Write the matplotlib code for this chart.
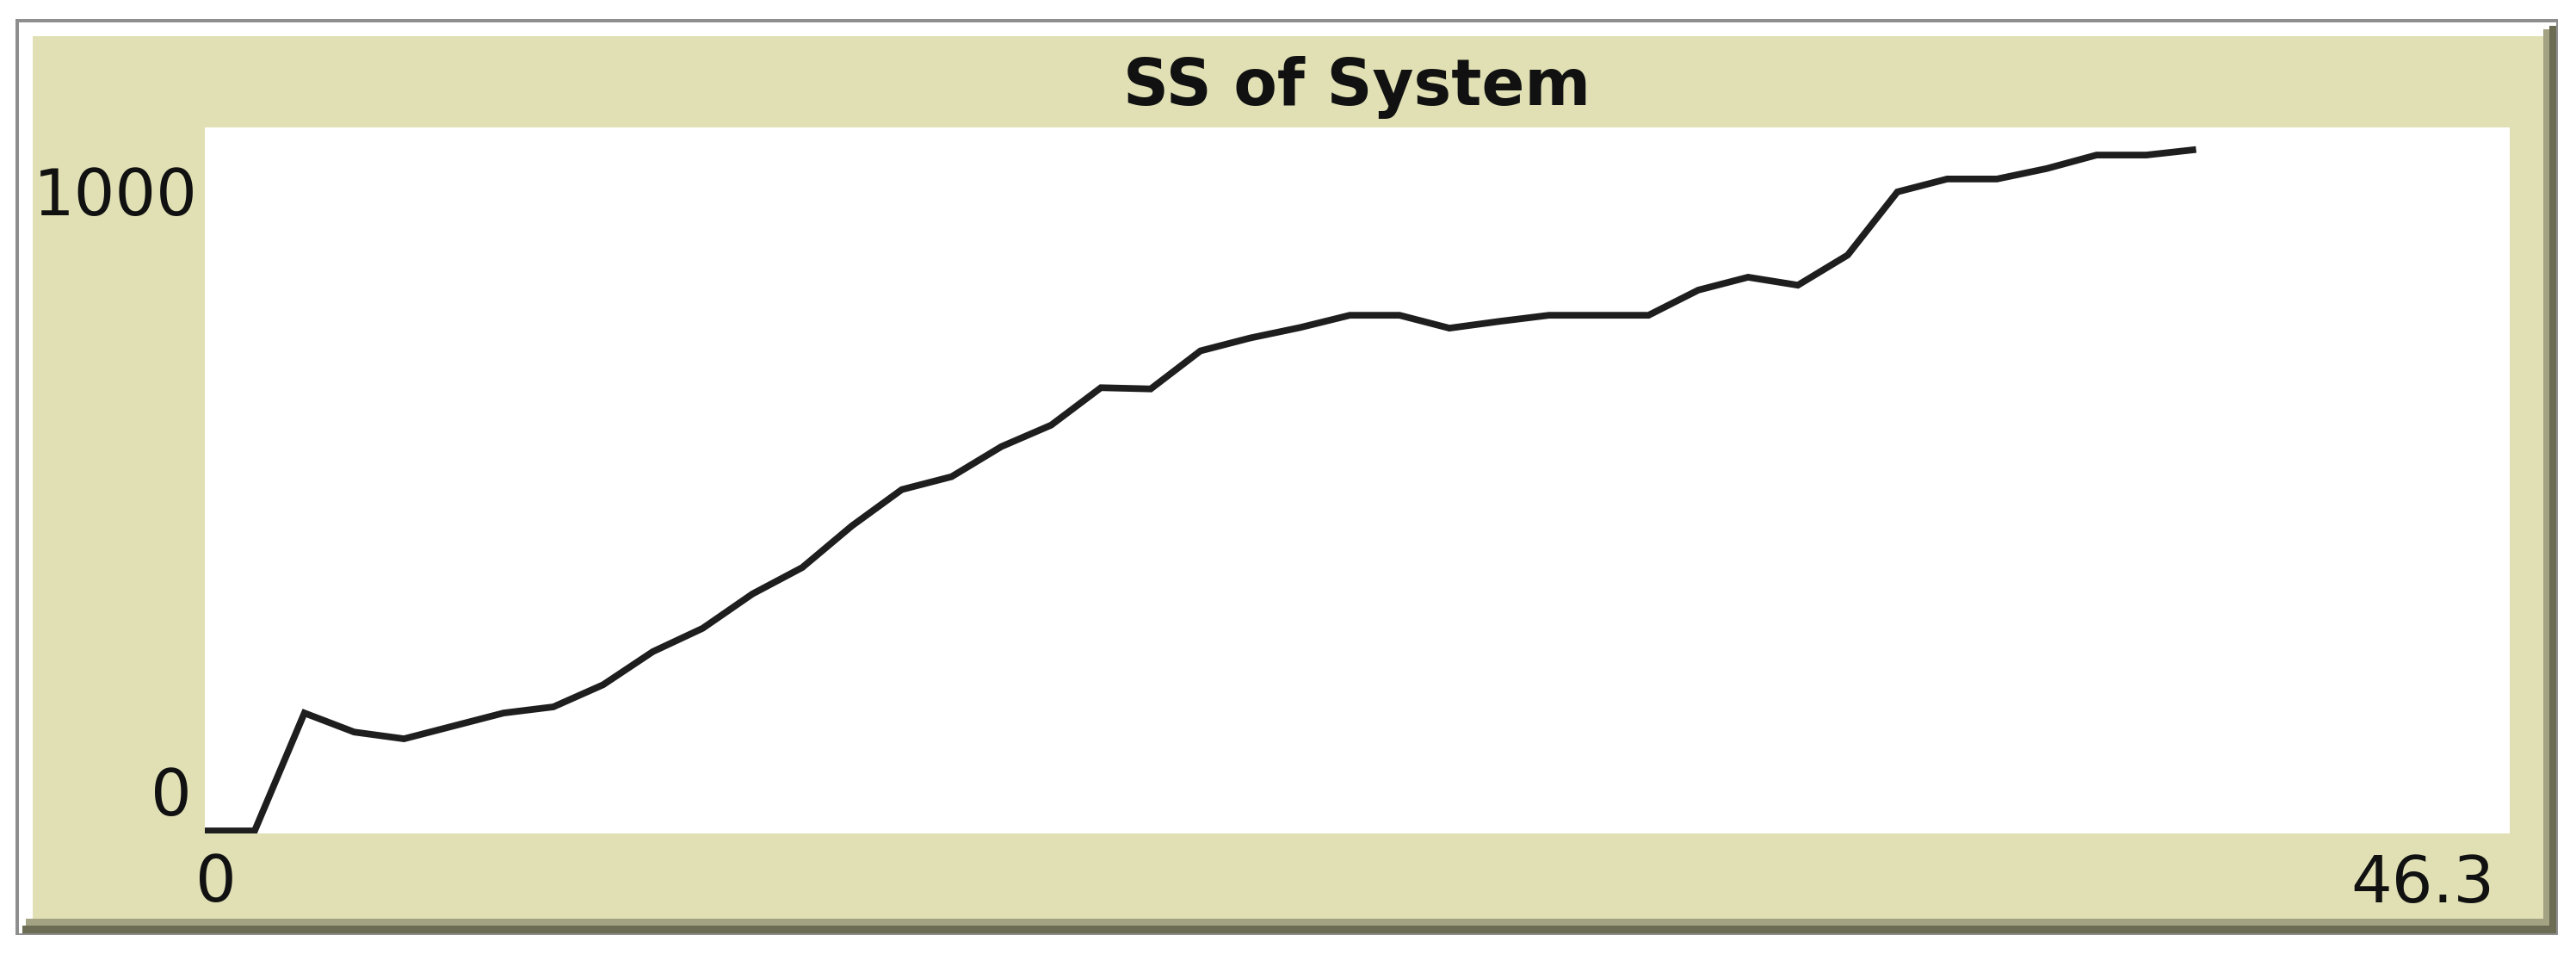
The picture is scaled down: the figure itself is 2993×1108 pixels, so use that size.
# NetLogo-style plot widget: "SS of System"
import matplotlib
matplotlib.use("Agg")
import matplotlib.pyplot as plt
from matplotlib.patches import Rectangle

# ---- data ----
ticks = list(range(41))
ss_values = [0, 0, 192, 161, 150, 171, 192, 202, 238, 292,
             330, 386, 429, 497, 556, 577, 626, 661, 722, 720,
             782, 803, 820, 840, 840, 819, 830, 840, 840, 840,
             881, 902, 889, 938, 1041, 1062, 1062, 1079, 1101, 1101,
             1110]
title = "SS of System"
x_min_label, x_max_label = "0", "46.3"
y_min_label, y_max_label = "0", "1000"
x_range = (0, 46.3)
y_range = (-4.2, 1146)

W, H = 2993, 1108
KHAKI = "#e0e0b4"
SHADOW_MID = "#a3a384"
SHADOW_DARK = "#6c6c54"

fig = plt.figure(figsize=(W / 100, H / 100), dpi=100)
fig.patch.set_facecolor("white")


def px_rect(x0, y0, x1, y1, color):
    # rectangle given in pixel coords with origin top-left
    r = Rectangle((x0 / W, 1 - y1 / H), (x1 - x0) / W, (y1 - y0) / H,
                  transform=fig.transFigure, facecolor=color,
                  edgecolor="none", zorder=-10)
    fig.add_artist(r)


def px_text(x, y, s, **kw):
    fig.text(x / W, 1 - y / H, s, **kw)


# widget frame
px_rect(18, 22, 2972, 1086, "#8e8e8e")
px_rect(22, 26, 2970, 1084, "white")
px_rect(38, 42, 2955, 1067, KHAKI)
px_rect(30, 1067, 2962, 1075, SHADOW_MID)
px_rect(26, 1075, 2970, 1084, SHADOW_DARK)
px_rect(2955, 34, 2962, 1075, SHADOW_MID)
px_rect(2962, 30, 2970, 1084, SHADOW_DARK)

# plot area
left, right, top, bottom = 238, 2916, 148, 968
ax = fig.add_axes([left / W, 1 - bottom / H, (right - left) / W, (bottom - top) / H])
ax.set_facecolor("white")
ax.plot(ticks, ss_values, color="#1e1e1e", linewidth=5.6,
        solid_joinstyle="miter", solid_capstyle="butt")
ax.set_xlim(*x_range)
ax.set_ylim(*y_range)
ax.set_xticks([])
ax.set_yticks([])
for s in ax.spines.values():
    s.set_visible(False)

# texts
px_text((left + right) / 2, 122, title, ha="center", va="baseline",
        fontsize=53, fontweight="bold", family="DejaVu Sans", color="#111111")
lab = dict(fontsize=54, family="DejaVu Sans", color="#111111", va="baseline")
px_text(230, 250, y_max_label, ha="right", **lab)
px_text(223, 947, y_min_label, ha="right", **lab)
px_text(251, 1047, x_min_label, ha="center", **lab)
px_text(2898, 1048, x_max_label, ha="right", **lab)

fig.savefig("out.png", dpi=100)
